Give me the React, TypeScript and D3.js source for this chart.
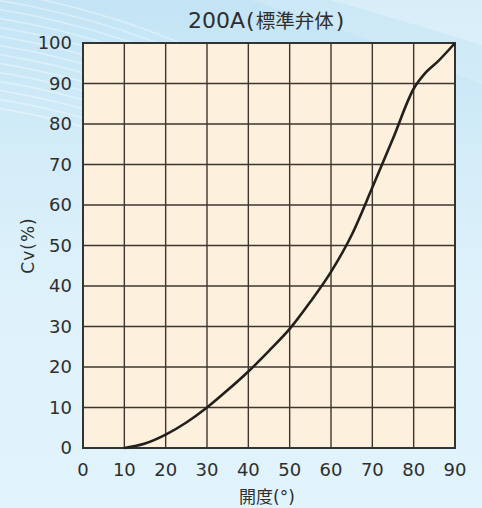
import React from "react";
import * as d3 from "d3";

const titleLatin = "200A";
const titleCjk = "標準弁体";
const xLabelCjk = "開度";
const xLabelUnit = "(°)";
const yLabel = "Cv(%)";
const xTicks = [0, 10, 20, 30, 40, 50, 60, 70, 80, 90];
const yTicks = [0, 10, 20, 30, 40, 50, 60, 70, 80, 90, 100];
const openingDeg = [10, 15, 20, 25, 30, 35, 40, 45, 50, 55, 60, 65, 70, 75, 80, 83, 86, 90];
const cvPercent = [0, 1.1, 3.3, 6.3, 10, 14.3, 18.9, 24, 29.4, 36.1, 43.5, 52.6, 64.3, 76.4, 88.7, 92.8, 95.6, 100];

const W = 482;
const H = 508;
const M = { left: 83, right: 455, top: 43, bottom: 448 };

export default function App() {
  const x = d3.scaleLinear().domain([0, 90]).range([M.left, M.right]);
  const y = d3.scaleLinear().domain([0, 100]).range([M.bottom, M.top]);
  const pts: [number, number][] = openingDeg.map((d, i) => [d, cvPercent[i]]);
  const line = d3
    .line<[number, number]>()
    .x((d) => x(d[0]))
    .y((d) => y(d[1]))
    .curve(d3.curveMonotoneX);
  const latin = "'DejaVu Sans', sans-serif";
  const cjk = "'Noto Sans CJK JP', sans-serif";
  const gridColor = "#3d3630";
  const textColor = "#2e2e2e";
  return (
    <svg
      width={W}
      height={H}
      style={{ position: "absolute", left: 0, top: 0, display: "block" }}
    >
      <defs>
        <linearGradient id="bg" x1="0" y1="0" x2="0" y2="1">
          <stop offset="0" stopColor="#c3e4f5" />
          <stop offset="0.3" stopColor="#d3ecf8" />
          <stop offset="0.6" stopColor="#dff2fb" />
          <stop offset="1" stopColor="#e1f3fb" />
        </linearGradient>
      </defs>
      <rect x={0} y={0} width={W} height={H} fill="url(#bg)" />
      {d3.range(0, 14).map((i) => (
        <path
          key={"s" + i}
          d={`M-10,${i * 9 - 10} Q120,${i * 9 + 10} 240,${i * 9 + 70}`}
          stroke="#ffffff"
          strokeOpacity={0.4}
          strokeWidth={1.5}
          fill="none"
        />
      ))}
      <path d="M330,0 L482,0 L482,45 Q400,20 330,0 Z" fill="#ffffff" opacity={0.35} />
      <path d="M250,0 Q380,40 482,85 L482,45 Q400,20 330,0 Z" fill="#ffffff" opacity={0.15} />
      <rect
        x={M.left}
        y={M.top}
        width={M.right - M.left}
        height={M.bottom - M.top}
        fill="#fdf0dc"
      />
      {xTicks.slice(1, -1).map((t) => (
        <line
          key={"gx" + t}
          x1={x(t)}
          x2={x(t)}
          y1={M.top}
          y2={M.bottom}
          stroke={gridColor}
          strokeWidth={1.4}
        />
      ))}
      {yTicks.slice(1, -1).map((t) => (
        <line
          key={"gy" + t}
          x1={M.left}
          x2={M.right}
          y1={y(t)}
          y2={y(t)}
          stroke={gridColor}
          strokeWidth={1.4}
        />
      ))}
      <rect
        x={M.left}
        y={M.top}
        width={M.right - M.left}
        height={M.bottom - M.top}
        fill="none"
        stroke="#333333"
        strokeWidth={2}
      />
      <path d={line(pts) || ""} fill="none" stroke="#231f1c" strokeWidth={2.6} />
      {yTicks.map((t) => (
        <text
          key={"ty" + t}
          x={72}
          y={y(t)}
          dy="0.36em"
          textAnchor="end"
          fontFamily={latin}
          fontSize={18}
          fill={textColor}
        >
          {t}
        </text>
      ))}
      {xTicks.map((t) => (
        <text
          key={"tx" + t}
          x={x(t)}
          y={476}
          textAnchor="middle"
          fontFamily={latin}
          fontSize={18}
          fill={textColor}
        >
          {t}
        </text>
      ))}
      <text x={188} y={28} fill={textColor} fontFamily={latin} fontSize={22}>
        <tspan>{titleLatin}</tspan>
        <tspan dx={1}>(</tspan>
        <tspan fontFamily={cjk} fontSize={19.5} dx={1}>
          {titleCjk}
        </tspan>
        <tspan dx={2}>)</tspan>
      </text>
      <text x={239} y={503} fill={textColor} fontFamily={latin} fontSize={17}>
        <tspan fontFamily={cjk}>{xLabelCjk}</tspan>
        <tspan>{xLabelUnit}</tspan>
      </text>
      <text
        transform={`translate(34,245.5) rotate(-90)`}
        textAnchor="middle"
        fontFamily={latin}
        fontSize={17}
        letterSpacing={1}
        fill={textColor}
      >
        {yLabel}
      </text>
    </svg>
  );
}
